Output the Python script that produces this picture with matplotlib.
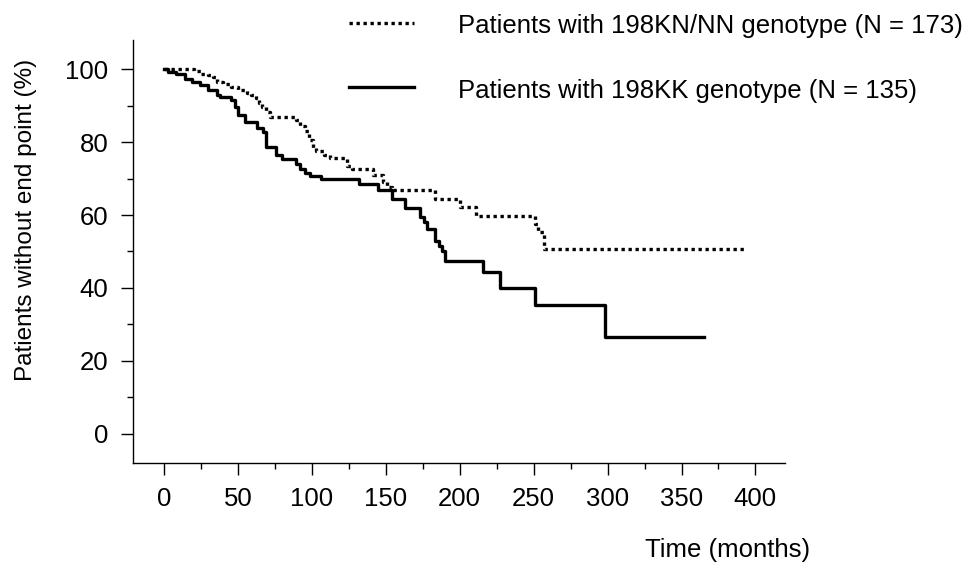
import matplotlib
matplotlib.use("Agg")
import matplotlib.pyplot as plt
from matplotlib.lines import Line2D
from matplotlib.ticker import MultipleLocator

plt.rcParams['font.family'] = ['Liberation Sans', 'DejaVu Sans']

# Kaplan-Meier steps (months, % without end point)
kk_time = [0, 3, 8, 14, 19, 24, 30, 36, 38, 45, 48, 50, 55, 63, 67, 69, 76, 80,
           89, 92, 95, 99, 106, 132, 145, 154, 163, 173, 176, 178, 183, 186, 188,
           190, 216, 227, 251, 298, 365]
kk_surv = [100, 99.2, 98.8, 97.4, 96.5, 95.6, 94.2, 92.8, 92.4, 91.5, 89.5, 87.4,
           85.5, 83.8, 82.8, 78.7, 76.5, 75.4, 74.0, 72.7, 71.5, 70.6, 70.0, 68.6,
           66.9, 64.5, 62.0, 59.5, 58.0, 56.2, 53.0, 51.5, 50.0, 47.5, 44.3, 40.0,
           35.3, 26.5, 26.5]

kn_time = [0, 20, 25, 30, 33, 36, 40, 45, 50, 56, 59, 62, 64, 66, 69, 72, 89, 92,
           95, 98, 101, 103, 108, 112, 124, 127, 141, 148, 151, 154, 183, 200, 211,
           251, 253, 257, 392]
kn_surv = [100, 99.4, 98.8, 98.3, 97.8, 96.6, 96.0, 95.1, 94.3, 93.5, 93.0, 92.0,
           90.8, 89.5, 88.2, 86.8, 86.0, 84.5, 83.0, 80.5, 78.5, 77.5, 76.5, 75.7,
           73.5, 72.7, 70.9, 69.0, 67.8, 66.8, 64.5, 62.2, 59.6, 57.6, 55.3, 50.7,
           50.7]

labels = ["Patients with 198KN/NN genotype (N = 173)",
          "Patients with 198KK genotype (N = 135)"]

W, H = 972, 563
fig = plt.figure(figsize=(W / 100, H / 100), dpi=100)
ax = fig.add_axes([133 / W, 1 - 463 / H, (785 - 133) / W, (463 - 40) / H])

dot_style = (0, (1, 1.1))
ax.step(kn_time, kn_surv, where='post', color='black', lw=2.4, linestyle=dot_style)
ax.step(kk_time, kk_surv, where='post', color='black', lw=2.4)

ax.set_xlim(-21, 420)
ax.set_ylim(-8, 108)
ax.xaxis.set_major_locator(MultipleLocator(50))
ax.xaxis.set_minor_locator(MultipleLocator(25))
ax.yaxis.set_major_locator(MultipleLocator(20))
ax.yaxis.set_minor_locator(MultipleLocator(10))
ax.tick_params(which='major', length=8.6, width=1, labelsize=18.5)
ax.tick_params(axis='x', which='major', pad=9)
ax.tick_params(axis='y', which='major', pad=9)
ax.tick_params(which='minor', length=4.3, width=1)

for s in ['top', 'right']:
    ax.spines[s].set_visible(False)
for s in ['left', 'bottom']:
    ax.spines[s].set_linewidth(1)

fig.text(26 / W, 1 - 220 / H, "Patients without end point (%)", rotation=90,
         ha='center', va='center', fontsize=17.5)
fig.text(810 / W, 1 - 557 / H, "Time (months)", ha='right', va='baseline',
         fontsize=18.5)

# legend drawn by hand at the top right
fig.add_artist(Line2D([349 / W, 414 / W], [1 - 23 / H, 1 - 23 / H], color='black',
                      lw=2.4, linestyle=dot_style))
fig.add_artist(Line2D([349 / W, 414 / W], [1 - 87 / H, 1 - 87 / H], color='black',
                      lw=2.4))
fig.text(458 / W, 1 - 33 / H, labels[0], ha='left', va='baseline', fontsize=18.5)
fig.text(458 / W, 1 - 98 / H, labels[1], ha='left', va='baseline', fontsize=18.5)

fig.savefig("out.png", dpi=100)
